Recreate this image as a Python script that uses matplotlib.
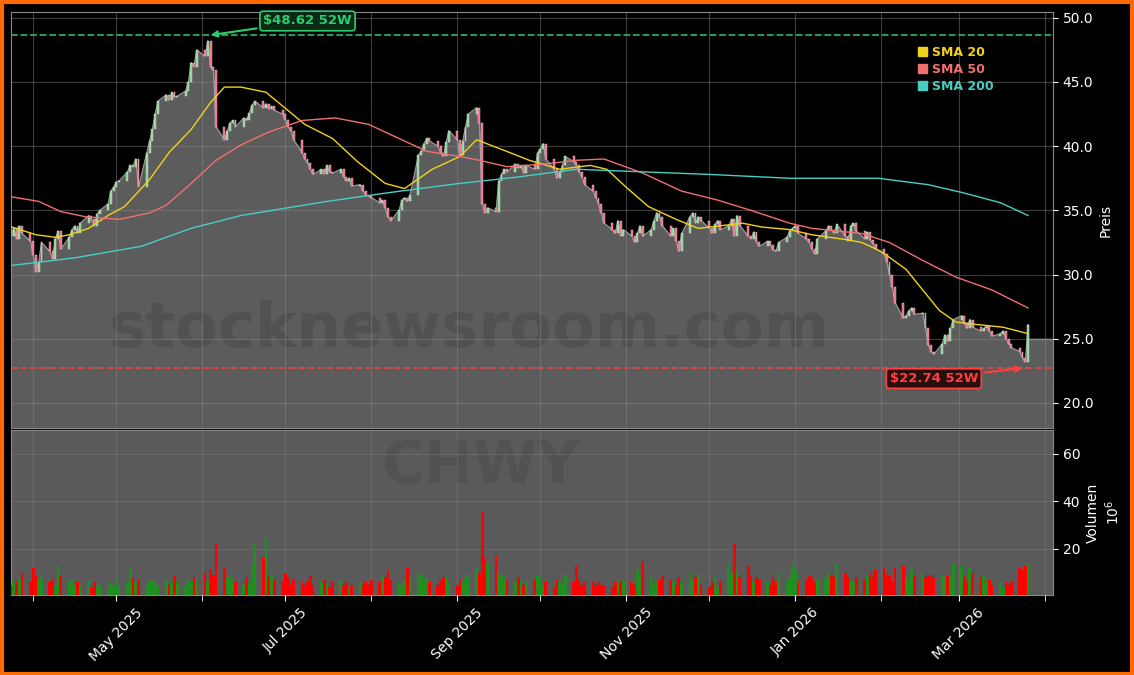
import matplotlib
matplotlib.use("Agg")
import matplotlib.pyplot as plt
import matplotlib.dates as mdates
from matplotlib.patches import Patch
import numpy as np
import pandas as pd

closes = [34.0, 33.5, 33.0, 33.6, 32.8, 33.8,
 33.2, 32.6, 31.5, 30.2, 31.0, 32.5, 31.8, 31.2, 32.8, 33.4, 32.0, 32.9, 33.5, 33.8, 33.2, 34.0, 34.6, 34.3, 33.8, 34.7, 35.0, 35.5,
 36.5, 36.8, 37.2, 37.3, 38.0, 38.5, 38.4, 39.0, 36.8, 39.5, 40.4, 41.3, 42.5, 43.5, 44.0, 43.6, 44.2, 43.8, 43.9, 44.3, 45.0, 46.5, 46.2, 47.5,
 47.0, 48.2, 46.2, 45.9, 41.5, 40.5, 41.2, 41.8, 42.0, 41.5, 42.2, 42.0, 42.6, 43.2, 43.5, 43.0, 43.3, 42.9, 43.1, 42.8, 42.5,
 42.0, 41.5, 41.2, 40.5, 39.5, 39.0, 38.7, 38.2, 37.8, 38.2, 37.8, 38.5, 38.0, 37.9, 38.2, 37.6, 37.3, 37.5, 36.9, 37.0, 36.5, 36.2, 36.1,
 36.0, 35.6, 35.8, 35.2, 34.5, 34.2, 35.0, 35.8, 36.0, 35.7, 36.2, 39.3, 39.6, 40.2, 40.6, 40.4, 40.0, 39.5, 39.2, 40.3, 41.2,
 40.5, 39.3, 40.4, 41.5, 42.5, 43.0, 41.8, 35.5, 34.8, 35.2, 34.9, 37.3, 37.8, 38.2, 38.0, 38.6, 38.3, 38.5, 37.9, 38.5, 38.2, 39.5,
 39.8, 40.2, 39.0, 38.2, 37.5, 38.0, 38.5, 39.2, 38.8, 38.5, 38.0, 37.6, 37.0, 36.5, 36.0, 35.5, 34.8, 34.0, 33.5, 33.2, 34.2, 33.0, 33.5,
 33.0, 32.5, 33.2, 33.8, 33.0, 33.5, 34.2, 34.8, 34.5, 33.8, 33.0, 33.6, 32.6, 31.8, 33.2, 34.5, 34.8, 34.0, 34.5, 34.2,
 33.6, 33.2, 33.9, 34.2, 33.5, 33.8, 34.3, 33.0, 34.6, 33.8, 33.0, 32.8, 33.3, 32.5, 32.2, 32.6, 32.3, 31.9, 31.8, 32.5, 32.9, 33.4, 33.6,
 33.8, 33.2, 32.8, 32.5, 32.0, 31.6, 32.8, 33.4, 33.8, 33.5, 33.2, 33.9, 33.0, 32.6, 33.8, 34.0, 33.4, 32.8, 33.3, 32.7, 32.4, 32.0,
 31.6, 31.0, 30.0, 29.0, 27.8, 26.6, 26.8, 27.2, 27.4, 26.9, 27.0, 25.8, 24.5, 24.0, 23.8, 24.6, 25.3, 24.8, 25.8, 26.5,
 26.8, 26.2, 25.8, 26.5, 25.9, 25.6, 25.8, 26.0, 25.6, 25.2, 25.4, 25.6, 25.0, 24.6, 24.3, 24.0, 23.5, 23.2, 26.1]

volumes = [18, 8, 5, 6, 6, 7,
 10, 6, 12, 9, 7, 8, 6, 7, 5, 13, 9, 6, 7, 5, 6, 5, 7, 4, 6, 5, 5, 4,
 6, 5, 7, 4, 6, 12, 8, 6, 7, 5, 6, 7, 6, 5, 7, 5, 6, 9, 6, 5, 7, 6, 8, 7,
 10, 6, 11, 9, 22, 12, 8, 9, 7, 6, 5, 8, 6, 13, 22, 16, 25, 8, 9, 7, 6,
 10, 8, 5, 7, 6, 5, 6, 9, 5, 6, 7, 5, 4, 6, 7, 5, 6, 4, 5, 6, 5, 6, 5,
 7, 6, 9, 8, 11, 7, 6, 5, 7, 12, 8, 10, 9, 7, 8, 6, 5, 7, 8, 9, 6,
 5, 7, 6, 8, 9, 12, 10, 36, 16, 14, 17, 10, 9, 8, 7, 6, 8, 7, 5, 6, 7, 9,
 8, 5, 6, 4, 7, 6, 5, 9, 6, 13, 7, 5, 6, 6, 5, 6, 5, 5, 4, 6, 7, 6, 6,
 6, 5, 11, 9, 15, 8, 5, 6, 7, 9, 7, 6, 5, 8, 6, 10, 7, 8, 9, 5,
 4, 6, 8, 4, 6, 14, 10, 22, 11, 8, 13, 9, 6, 8, 7, 6, 5, 8, 6, 10, 6, 8, 14,
 11, 6, 7, 9, 8, 6, 7, 8, 10, 9, 8, 14, 10, 8, 7, 6, 8, 7, 9, 10, 8, 11,
 12, 10, 9, 6, 12, 13, 8, 6, 11, 9, 10, 8, 9, 9, 8, 9, 8, 9, 8, 14,
 13, 9, 6, 12, 10, 8, 9, 6, 7, 5, 6, 4, 6, 5, 6, 12, 11, 13, 14]

sma20_dates = ["2025-03-20","2025-04-02","2025-04-09","2025-04-14","2025-04-21","2025-04-28","2025-05-04","2025-05-13","2025-05-20","2025-05-28","2025-06-04","2025-06-09","2025-06-15","2025-06-24","2025-07-08","2025-07-18","2025-07-27","2025-08-06","2025-08-13","2025-08-23","2025-09-02","2025-09-08","2025-09-20","2025-09-27","2025-10-08","2025-10-19","2025-10-25","2025-11-01","2025-11-09","2025-11-19","2025-11-27","2025-12-13","2025-12-20","2025-12-30","2026-01-07","2026-01-20","2026-01-25","2026-02-01","2026-02-10","2026-02-16","2026-02-22","2026-02-28","2026-03-08","2026-03-17","2026-03-26"]
sma20_vals = [34.0,33.1,32.9,33.1,33.6,34.6,35.3,37.4,39.5,41.3,43.4,44.6,44.6,44.2,41.7,40.6,38.8,37.1,36.7,38.2,39.2,40.5,39.5,38.9,38.2,38.5,38.2,36.8,35.3,34.3,33.6,34.0,33.7,33.5,33.1,32.7,32.5,31.8,30.4,28.8,27.2,26.3,26.1,25.9,25.4]

sma50_dates = ["2025-03-20","2025-04-03","2025-04-11","2025-04-20","2025-05-02","2025-05-13","2025-05-19","2025-05-28","2025-06-06","2025-06-15","2025-06-25","2025-07-07","2025-07-19","2025-07-31","2025-08-11","2025-08-21","2025-09-02","2025-09-09","2025-09-19","2025-10-02","2025-10-14","2025-10-24","2025-11-07","2025-11-21","2025-12-04","2025-12-16","2025-12-30","2026-01-07","2026-01-25","2026-02-04","2026-02-16","2026-02-28","2026-03-13","2026-03-26"]
sma50_vals = [36.2,35.7,34.9,34.5,34.3,34.8,35.4,37.1,38.9,40.1,41.1,42.0,42.2,41.7,40.6,39.6,39.2,38.9,38.4,38.6,38.9,39.0,37.9,36.5,35.8,35.0,34.0,33.6,33.2,32.5,31.1,29.8,28.8,27.4]

sma200_dates = ["2025-03-20","2025-04-16","2025-05-10","2025-05-28","2025-06-15","2025-07-16","2025-08-08","2025-09-02","2025-09-23","2025-10-14","2025-11-07","2025-12-01","2025-12-30","2026-01-31","2026-02-18","2026-03-02","2026-03-16","2026-03-26"]
sma200_vals = [30.6,31.3,32.2,33.6,34.6,35.7,36.4,37.1,37.6,38.2,38.0,37.8,37.5,37.5,37.0,36.4,35.6,34.6]

high52 = 48.62
high52_date = "2025-06-03"
low52 = 22.74
low52_date = "2026-03-25"
right_box_level = 25.0

dates = pd.bdate_range(end="2026-03-26", periods=len(closes))
closes = np.array(closes)
opens = np.concatenate([[closes[0]], closes[:-1]])
up = closes >= opens

fig = plt.figure(figsize=(11.34, 6.75), dpi=100, facecolor="black")
W, H = 1134, 675
axp = fig.add_axes([11/W, 1-428/H, (1053-11)/W, (428-12)/H], facecolor="black")
axv = fig.add_axes([11/W, 1-595/H, (1053-11)/W, (595-430)/H], facecolor="#5a5a5a", sharex=axp)

xl = (pd.Timestamp("2025-03-24"), pd.Timestamp("2026-04-04"))
axp.fill_between(dates, 0, closes, color="#5c5c5c", zorder=1)
axp.plot(dates, closes, color="#9a9a9a", lw=0.8, zorder=2)
axp.fill_between([dates[-1], xl[1]], 0, right_box_level, color="#5c5c5c", zorder=1)
axp.plot([dates[-1], xl[1]], [right_box_level]*2, color="#8a8a8a", lw=1, zorder=2)

ccol = np.where(up, "#86d894", "#ff5c7c")
body = np.abs(closes - opens)
body = np.where(body < 0.08, 0.08, body)
axp.bar(dates, body, bottom=np.minimum(opens, closes), width=0.7, color=ccol,
        edgecolor="#dddddd", linewidth=0.3, zorder=4)

axp.plot(pd.to_datetime(sma20_dates), sma20_vals, color="#f2d21b", lw=1, zorder=5)
axp.plot(pd.to_datetime(sma50_dates), sma50_vals, color="#f07070", lw=1, zorder=5)
axp.plot(pd.to_datetime(sma200_dates), sma200_vals, color="#48cfc4", lw=1, zorder=5)

axp.axhline(high52, color="#2eaa5c", ls="--", lw=1.3, zorder=3)
axp.axhline(low52, color="#e04848", ls="--", lw=1.3, zorder=3)
axp.annotate(f"${high52:.2f} 52W", xy=(pd.Timestamp(high52_date), high52),
             xytext=(pd.Timestamp("2025-07-09"), 49.75), color="#2ecc71", fontsize=9.5,
             fontweight="bold", ha="center", va="center", zorder=8,
             bbox=dict(boxstyle="round,pad=0.25", fc="#0b2a16", ec="#2ecc71", lw=1.2),
             arrowprops=dict(arrowstyle="-|>", color="#2ecc71", lw=1.5))
axp.annotate(f"${low52:.2f} 52W", xy=(pd.Timestamp(low52_date), low52),
             xytext=(pd.Timestamp("2026-02-20"), 21.9), color="#ff4040", fontsize=9.5,
             fontweight="bold", ha="center", va="center", zorder=8,
             bbox=dict(boxstyle="round,pad=0.25", fc="#2a0d0d", ec="#ff4040", lw=1.2),
             arrowprops=dict(arrowstyle="-|>", color="#ff4040", lw=1.5))

axp.text(0.44, 0.235, "stocknewsroom.com", transform=axp.transAxes, fontsize=45,
         fontweight="bold", color="#484848", alpha=0.5, ha="center", va="center", zorder=2)
axv.text(0.45, 0.78, "CHWY", transform=axv.transAxes, fontsize=42,
         fontweight="bold", color="#4e4e4e", alpha=0.6, ha="center", va="center", zorder=1)

vcol = np.where(up, "#1f8f1f", "#ff0000")
axv.bar(dates, volumes, width=1.0, color=vcol, zorder=3)

axp.set_xlim(*xl)
axp.set_ylim(18.05, 50.45)
axv.set_ylim(0.6, 70)

for ax in (axp, axv):
    ax.yaxis.tick_right()
    ax.yaxis.set_label_position("right")
    ax.tick_params(colors="white", labelsize=10)
    ax.grid(True, which="both", color="#888888", alpha=0.35, lw=0.8)
    ax.set_axisbelow(False)
    for s in ax.spines.values():
        s.set_color("#888888")
axp.grid(True, which="both", color="#888888", alpha=0.45, lw=0.8, zorder=0)
axp.set_yticks([20, 25, 30, 35, 40, 45, 50])
axp.yaxis.set_major_formatter(matplotlib.ticker.FormatStrFormatter("%.1f"))
axv.set_yticks([20, 40, 60])
axp.set_ylabel("Preis", color="white", fontsize=10)
axv.set_ylabel("Volumen\n$10^6$", color="white", fontsize=10)

axv.xaxis.set_major_locator(mdates.MonthLocator(bymonth=[1, 3, 5, 7, 9, 11]))
axv.xaxis.set_minor_locator(mdates.MonthLocator())
axv.xaxis.set_major_formatter(mdates.DateFormatter("%b %Y"))
axv.tick_params(axis="x", which="both", colors="white", length=4)
plt.setp(axv.get_xticklabels(), rotation=45, ha="center")
axp.tick_params(axis="x", which="both", labelbottom=False, length=0)

handles = [Patch(color="#f2d21b"), Patch(color="#f07070"), Patch(color="#48cfc4")]
leg = axp.legend(handles, ["SMA 20", "SMA 50", "SMA 200"], loc="upper left",
                 bbox_to_anchor=(0.86, 0.945), frameon=False, handlelength=0.7,
                 handleheight=0.7, handletextpad=0.4, labelspacing=0.3, fontsize=9)
for t, c in zip(leg.get_texts(), ["#f2d21b", "#f07070", "#48cfc4"]):
    t.set_color(c)
    t.set_fontweight("bold")

fig.patches.append(matplotlib.patches.Rectangle((0.0015, 0.002), 0.997, 0.995, transform=fig.transFigure,
                   fill=False, ec="#ff6a00", lw=3))
fig.savefig("out.png", dpi=100, facecolor="black")
